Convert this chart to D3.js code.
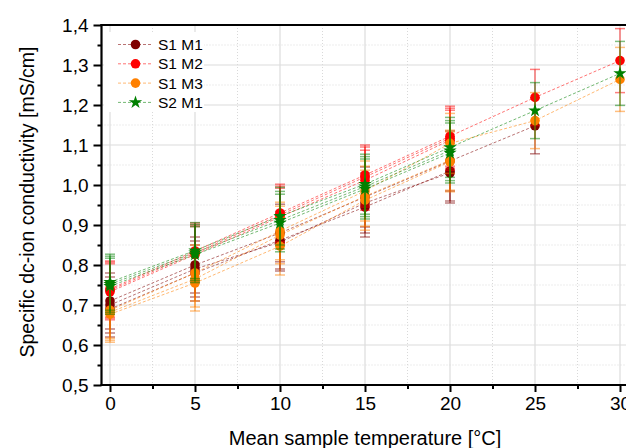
<!DOCTYPE html>
<html lang="de">
<head>
<meta charset="UTF-8">
<script src="https://d3js.org/d3.v7.min.js"></script>
<style>
  body { margin: 0; background: #fff; }
  svg { display: block; font-family: Arial, 'Liberation Sans', sans-serif; }
</style>
</head>
<body>
<div id="chart"></div>
<script>
// temperatures (°C)
const temps = [0, 5, 10, 15, 20, 25, 30];

// absolute error (mS/cm) per temperature
const errs = [0.07, 0.07, 0.072, 0.075, 0.075, 0.07, 0.08];

// series names and colours
const seriesNames = ["S1 M1", "S1 M2", "S1 M3", "S2 M1"];
const seriesColors = ["#800000", "#ff0000", "#ff8000", "#008000"];
const seriesSymbols = ["circle", "circle", "circle", "star"];

// each series: several runs, values per temperature (null = not measured)
const s1m1 = [
  [0.710, 0.800, 0.880, 0.970, 1.060, 1.148, null],
  [0.700, 0.790, 0.857, 0.955, 1.030, null, null],
  [0.690, 0.780, 0.862, 0.945, 1.035, null, null]
];
const s1m2 = [
  [0.740, 0.835, 0.930, 1.025, 1.122, 1.219, 1.311],
  [0.737, 0.830, 0.925, 1.020, 1.117, null, null],
  [0.733, 0.826, 0.920, 1.012, 1.112, null, null]
];
const s1m3 = [
  [0.687, 0.780, 0.885, 0.985, 1.104, 1.161, 1.264],
  [0.682, 0.765, 0.875, 0.972, 1.062, null, null],
  [0.677, 0.755, 0.847, 0.962, 1.058, null, null]
];
const s2m1 = [
  [0.757, 0.836, 0.922, 1.002, 1.094, 1.186, 1.279],
  [0.752, 0.831, 0.912, 0.996, 1.086, null, null],
  [0.747, 0.826, 0.905, 0.990, 1.080, null, null]
];
const seriesRuns = [s1m1, s1m2, s1m3, s2m1];

const yTicks = [0.5, 0.6, 0.7, 0.8, 0.9, 1.0, 1.1, 1.2, 1.3, 1.4];
const xTicks = [0, 5, 10, 15, 20, 25, 30];

const W = 626, H = 448;
const svg = d3.select("#chart").append("svg").attr("width", W).attr("height", H);

const x = d3.scaleLinear().domain([-0.5, 31]).range([101.5, 101.5 + 31.5 * 17]);
const y = d3.scaleLinear().domain([0.5, 1.4]).range([385, 25]);
const pLeft = x(-0.5), pRight = x(31), pTop = y(1.4), pBottom = y(0.5);

const fmt = d3.formatLocale({decimal: ",", thousands: ".", grouping: [3], currency: ["", ""]}).format(".1f");

// grid
const grid = svg.append("g");
d3.range(0.55, 1.4, 0.1).forEach(v => {
  grid.append("line").attr("x1", pLeft).attr("x2", pRight).attr("y1", y(v)).attr("y2", y(v))
    .attr("stroke", "#d9d9d9").attr("stroke-dasharray", "1,2");
});
d3.range(2.5, 31, 5).forEach(v => {
  grid.append("line").attr("x1", x(v)).attr("x2", x(v)).attr("y1", pTop).attr("y2", pBottom)
    .attr("stroke", "#d9d9d9").attr("stroke-dasharray", "1,2");
});
yTicks.slice(1, -1).forEach(v => {
  grid.append("line").attr("x1", pLeft).attr("x2", pRight).attr("y1", y(v)).attr("y2", y(v))
    .attr("stroke", "#dcdcdc").attr("stroke-width", 1.2);
});
xTicks.forEach(v => {
  grid.append("line").attr("x1", x(v)).attr("x2", x(v)).attr("y1", pTop).attr("y2", pBottom)
    .attr("stroke", "#dcdcdc").attr("stroke-width", 1.2);
});

const star = d3.symbol().type(d3.symbolStar).size(55);
const circ = d3.symbol().type(d3.symbolCircle).size(72);

const line = d3.line()
  .defined(d => d.v != null)
  .x(d => x(d.t)).y(d => y(d.v));

// dashed connecting lines
seriesRuns.forEach((runs, si) => {
  runs.forEach(run => {
    const pts = temps.map((t, i) => ({t: t, v: run[i]}));
    svg.append("path").datum(pts).attr("d", line)
      .attr("fill", "none").attr("stroke", seriesColors[si]).attr("stroke-opacity", 0.55)
      .attr("stroke-width", 1).attr("stroke-dasharray", "3,2");
  });
});

// error bars and markers
seriesRuns.forEach((runs, si) => {
  const g = svg.append("g");
  const c = seriesColors[si];
  runs.forEach(run => {
    temps.forEach((t, i) => {
      const v = run[i];
      if (v == null) return;
      const e = errs[i];
      const eb = g.append("g").attr("stroke", c).attr("stroke-opacity", 0.5).attr("stroke-width", 1.5);
      eb.append("line").attr("x1", x(t)).attr("x2", x(t)).attr("y1", y(v - e)).attr("y2", y(v + e));
      eb.append("line").attr("x1", x(t) - 5).attr("x2", x(t) + 5).attr("y1", y(v - e)).attr("y2", y(v - e));
      eb.append("line").attr("x1", x(t) - 5).attr("x2", x(t) + 5).attr("y1", y(v + e)).attr("y2", y(v + e));
    });
  });
  runs.forEach(run => {
    temps.forEach((t, i) => {
      const v = run[i];
      if (v == null) return;
      g.append("path").attr("d", seriesSymbols[si] === "star" ? star() : circ())
        .attr("transform", `translate(${x(t)},${y(v)})`).attr("fill", c);
    });
  });
});

// legend
const lg = svg.append("g");
lg.append("rect").attr("x", 104).attr("y", 32).attr("width", 100).attr("height", 80).attr("fill", "#fff");
seriesNames.forEach((n, i) => {
  const ly = 44.5 + i * 19.3;
  lg.append("line").attr("x1", 118).attr("x2", 152).attr("y1", ly).attr("y2", ly)
    .attr("stroke", seriesColors[i]).attr("stroke-opacity", 0.55).attr("stroke-dasharray", "3,2");
  lg.append("path").attr("d", seriesSymbols[i] === "star" ? star() : circ())
    .attr("transform", `translate(135.5,${ly})`).attr("fill", seriesColors[i]);
  lg.append("text").attr("x", 158).attr("y", ly + 5.5).attr("font-size", 15.5).attr("fill", "#000").text(n);
});

// axes
const yAxis = svg.append("g").attr("transform", `translate(${pLeft},0)`)
  .call(d3.axisLeft(y).tickValues(yTicks).tickFormat(fmt).tickSize(8).tickPadding(5));
const yMinor = svg.append("g").attr("transform", `translate(${pLeft},0)`)
  .call(d3.axisLeft(y).tickValues(d3.range(0.55, 1.4, 0.1)).tickSize(4).tickFormat(""));
const xAxis = svg.append("g").attr("transform", `translate(0,${pBottom})`)
  .call(d3.axisBottom(x).tickValues(xTicks).tickSize(7).tickPadding(5));
const xMinor = svg.append("g").attr("transform", `translate(0,${pBottom})`)
  .call(d3.axisBottom(x).tickValues(d3.range(2.5, 31, 5)).tickSize(4).tickFormat(""));
[yAxis, yMinor, xAxis, xMinor].forEach(a => {
  a.select(".domain").remove();
  a.selectAll("line").attr("stroke", "#000").attr("stroke-width", 2);
  a.selectAll("text").attr("font-size", 19).attr("font-family", "Arial, 'Liberation Sans', sans-serif").attr("fill", "#000");
});
svg.append("line").attr("x1", pLeft).attr("x2", pLeft).attr("y1", pTop - 1).attr("y2", pBottom + 1)
  .attr("stroke", "#000").attr("stroke-width", 2.2);
svg.append("line").attr("x1", pLeft - 1).attr("x2", W).attr("y1", pBottom).attr("y2", pBottom)
  .attr("stroke", "#000").attr("stroke-width", 2.2);
svg.append("line").attr("x1", pLeft - 1).attr("x2", W).attr("y1", pTop).attr("y2", pTop)
  .attr("stroke", "#000").attr("stroke-width", 2.2);

// titles
svg.append("text").attr("x", 365).attr("y", 445).attr("text-anchor", "middle")
  .attr("font-size", 20).text("Mean sample temperature [°C]");
svg.append("text").attr("transform", "translate(34,202) rotate(-90)").attr("text-anchor", "middle")
  .attr("font-size", 19.5).text("Specific dc-ion conductivity [mS/cm]");
</script>
</body>
</html>
